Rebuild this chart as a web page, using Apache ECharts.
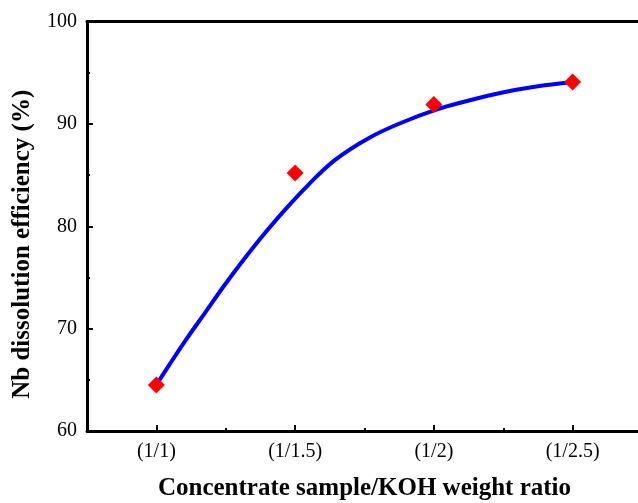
<!DOCTYPE html>
<html>
<head>
<meta charset="utf-8">
<script src="https://cdn.jsdelivr.net/npm/echarts@6/dist/echarts.min.js"></script>
<style>html,body{margin:0;padding:0;background:#fff;}#c{width:638px;height:503px;}</style>
</head>
<body>
<div id="c"></div>
<script>
// Data
var xPos = [1, 2, 3, 4];
var xLabels = ['(1/1)', '(1/1.5)', '(1/2)', '(1/2.5)'];
var efficiency = [64.5, 85.2, 91.9, 94.1];
var minorXTicks = [1.5, 2.5, 3.5];
// Fitted curve
var curveX = [1.0, 1.204, 1.348, 1.492, 1.637, 1.781, 1.925, 2.094, 2.286, 2.526, 2.766, 3.007, 3.247, 3.487, 3.727, 4.0];
var curveY = [64.5, 68.72, 71.49, 74.26, 76.87, 79.31, 81.58, 84.02, 86.46, 88.58, 90.11, 91.35, 92.26, 93.04, 93.62, 94.08];

var FONT = '"Liberation Serif", "Times New Roman", serif';
var chart = echarts.init(document.getElementById('c'), null, {renderer: 'canvas'});

var pts = xPos.map(function (x, i) { return [x, efficiency[i]]; });
var curve = curveX.map(function (x, i) { return [x, curveY[i]]; });
var lineStyle = {color: '#000', width: 3};

chart.setOption({
  animation: false,
  backgroundColor: '#fff',
  grid: {left: 87, right: -4, top: 21.5, bottom: 72, containLabel: false, outerBoundsMode: 'none'},
  xAxis: [{
    type: 'value', position: 'bottom', min: 0.5, max: 4.5,
    axisLine: {show: true, onZero: false, lineStyle: lineStyle},
    axisTick: {show: true, inside: true, length: 6, lineStyle: {color: '#000', width: 2}, customValues: xPos},
    axisLabel: {show: true, margin: 11, color: '#000', fontFamily: FONT, fontSize: 20, customValues: xPos,
      formatter: function (v) { var i = xPos.indexOf(v); return i >= 0 ? xLabels[i] : ''; }},
    splitLine: {show: false},
    name: 'Concentrate sample/KOH weight ratio', nameLocation: 'middle', nameGap: 45,
    nameTextStyle: {color: '#000', fontFamily: FONT, fontSize: 25, fontWeight: 'bold'}
  }, {
    type: 'value', position: 'bottom', min: 0.5, max: 4.5,
    axisLine: {show: false},
    axisTick: {show: true, inside: true, length: 3, lineStyle: {color: '#000', width: 2}, customValues: minorXTicks},
    axisLabel: {show: false},
    splitLine: {show: false}
  }, {
    type: 'value', position: 'top', min: 0.5, max: 4.5,
    axisLine: {show: true, onZero: false, lineStyle: lineStyle},
    axisTick: {show: false}, axisLabel: {show: false}, splitLine: {show: false}
  }],
  yAxis: [{
    type: 'value', position: 'left', min: 60, max: 100, interval: 10,
    axisLine: {show: true, onZero: false, lineStyle: lineStyle},
    axisTick: {show: true, inside: true, length: 6, lineStyle: {color: '#000', width: 2}},
    minorTick: {show: true, splitNumber: 2, length: 3, lineStyle: {color: '#000', width: 2}},
    axisLabel: {margin: 10, color: '#000', fontFamily: FONT, fontSize: 20},
    splitLine: {show: false}, minorSplitLine: {show: false},
    name: 'Nb dissolution efficiency (%)', nameLocation: 'middle', nameGap: 52, nameRotate: 90,
    nameTextStyle: {color: '#000', fontFamily: FONT, fontSize: 25, fontWeight: 'bold', padding: [0, 36, 0, 0]}
  }],
  series: [{
    type: 'line', data: curve, smooth: 0.4, showSymbol: false, symbol: 'none',
    lineStyle: {color: '#0000ff', width: 4}, z: 2, clip: false
  }, {
    type: 'scatter', data: pts, symbol: 'diamond', symbolSize: 17,
    itemStyle: {color: '#ff0000', opacity: 1}, z: 3
  }]
});
</script>
</body>
</html>
